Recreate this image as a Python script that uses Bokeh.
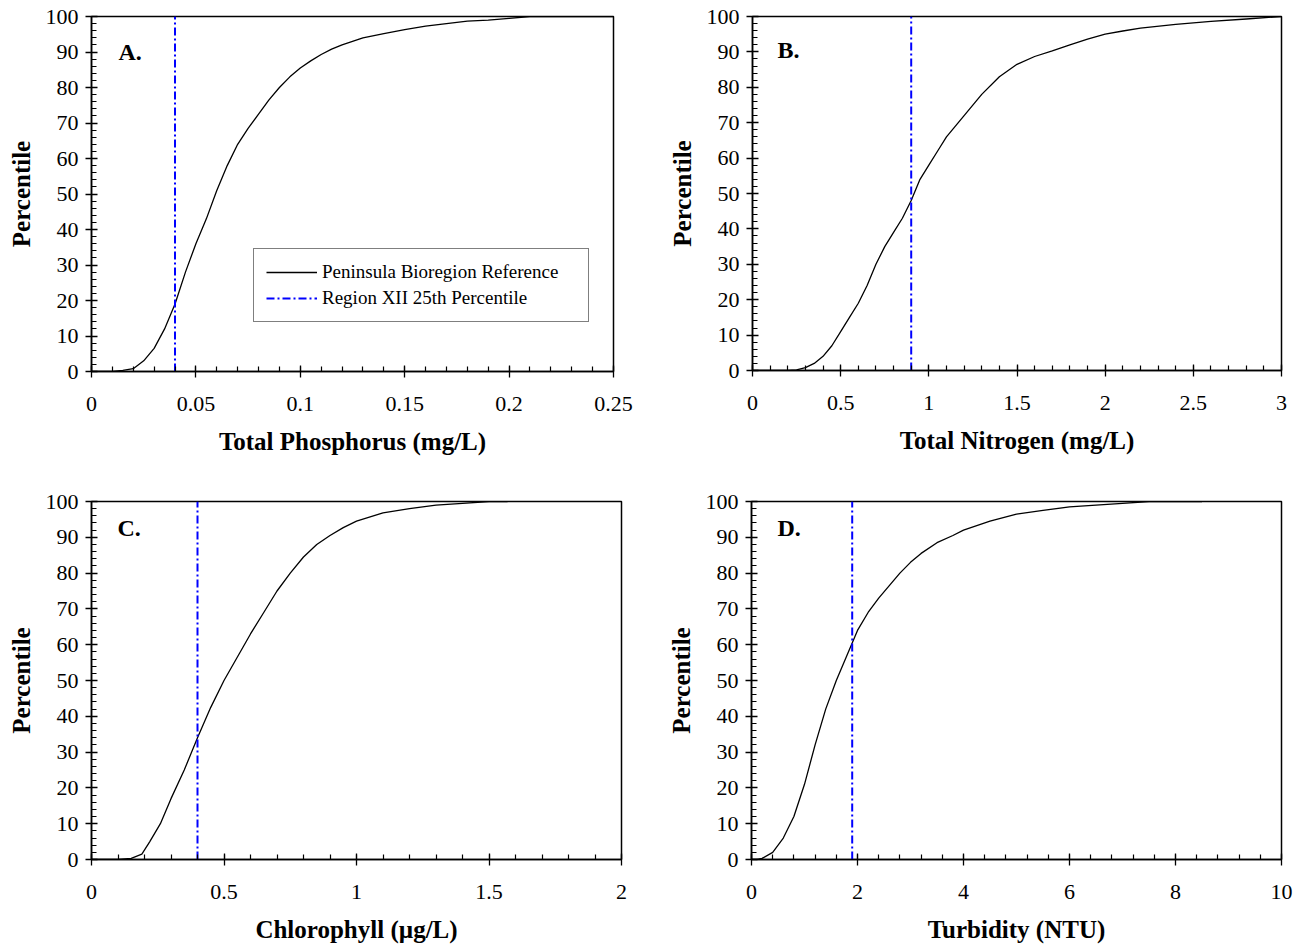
from bokeh.plotting import figure
from bokeh.layouts import column, row
from bokeh.models import Range1d, SingleIntervalTicker, CustomJSTickFormatter, Label
from bokeh.embed import file_html
from bokeh.resources import INLINE

FONT = "Liberation Serif"

# ---- data ----
tp_x = [0, 0.01, 0.015, 0.02, 0.025, 0.03, 0.035, 0.04, 0.045, 0.05, 0.055, 0.06, 0.065, 0.07,
        0.075, 0.08, 0.085, 0.09, 0.095, 0.1, 0.105, 0.11, 0.115, 0.12, 0.125, 0.13, 0.14, 0.15,
        0.16, 0.17, 0.18, 0.19, 0.2, 0.21, 0.25]
tp_y = [0, 0, 0.3, 0.8, 3, 6.5, 12, 19, 28, 36, 43, 51, 58, 64,
        68.5, 72.5, 76.5, 80, 83, 85.5, 87.5, 89.3, 90.8, 92, 93, 94, 95.2, 96.3,
        97.3, 98, 98.7, 99, 99.5, 100, 100]

tn_x = [0, 0.2, 0.25, 0.3, 0.35, 0.4, 0.45, 0.5, 0.55, 0.6, 0.65, 0.7, 0.75, 0.8, 0.85, 0.9,
        0.95, 1.0, 1.05, 1.1, 1.2, 1.3, 1.4, 1.5, 1.6, 1.7, 1.8, 1.9, 2.0, 2.1, 2.2, 2.4, 2.6,
        2.8, 3.0]
tn_y = [0, 0, 0.2, 0.8, 2, 4, 7, 11, 15, 19, 24, 30, 35, 39, 43, 48,
        54, 58, 62, 66, 72, 78, 83, 86.5, 88.7, 90.3, 92, 93.6, 95, 95.9, 96.7, 97.8, 98.6,
        99.3, 100]

chl_x = [0, 0.1, 0.15, 0.19, 0.22, 0.26, 0.3, 0.35, 0.4, 0.45, 0.5, 0.55, 0.6, 0.65, 0.7,
         0.75, 0.8, 0.85, 0.9, 0.95, 1.0, 1.1, 1.2, 1.3, 1.4, 1.5, 1.57]
chl_y = [0, 0, 0.3, 1.5, 5, 10, 17, 25, 34, 42.5, 50, 56.5, 63, 69, 75,
         80, 84.5, 88, 90.5, 92.7, 94.5, 96.8, 98, 99, 99.5, 100, 100]

tur_x = [0, 0.1, 0.2, 0.4, 0.6, 0.8, 1.0, 1.2, 1.4, 1.6, 1.8, 2.0, 2.2, 2.4, 2.6, 2.8, 3.0,
         3.2, 3.5, 3.8, 4.0, 4.5, 5.0, 5.5, 6.0, 6.5, 7.0, 7.5, 8.5]
tur_y = [0, 0, 0.3, 2, 6, 12, 21, 32, 42, 50, 57, 64, 69, 73, 76.5, 80, 83,
         85.5, 88.5, 90.5, 92, 94.5, 96.5, 97.5, 98.5, 99, 99.5, 100, 100]

ref_values = [0.04, 0.9, 0.4, 1.9]          # Region XII 25th percentile
x_max = [0.25, 3, 2, 10]
x_major = [0.05, 0.5, 0.5, 2]
x_titles = ["Total Phosphorus (mg/L)", "Total Nitrogen (mg/L)", "Chlorophyll (\u00b5g/L)", "Turbidity (NTU)"]
panel_letters = ["A.", "B.", "C.", "D."]
y_title = "Percentile"
legend_names = ["Peninsula Bioregion Reference", "Region XII 25th Percentile"]


def make_panel(xs, ys, i, frame_w, frame_h, borders, letter_pos, legend=False):
    left, right, top, bottom = borders
    p = figure(frame_width=frame_w, frame_height=frame_h,
               min_border_left=left, min_border_right=right,
               min_border_top=top, min_border_bottom=bottom,
               x_range=Range1d(0, x_max[i]), y_range=Range1d(0, 100),
               output_backend="svg", toolbar_location=None,
               background_fill_color="white", border_fill_color="white")
    p.xgrid.visible = False
    p.ygrid.visible = False
    p.outline_line_color = "black"
    p.outline_line_width = 1.5

    p.xaxis.ticker = SingleIntervalTicker(interval=x_major[i], num_minor_ticks=5)
    p.yaxis.ticker = SingleIntervalTicker(interval=10, num_minor_ticks=5)
    p.xaxis.formatter = CustomJSTickFormatter(code="return String(Number(tick.toFixed(6)));")
    p.xaxis.axis_label = x_titles[i]
    p.yaxis.axis_label = y_title

    for ax in (p.xaxis[0], p.yaxis[0]):
        ax.axis_line_color = "black"
        ax.axis_line_width = 1.5
        ax.major_tick_line_color = "black"
        ax.major_tick_line_width = 1.3
        ax.minor_tick_line_color = "black"
        ax.minor_tick_line_width = 1.2
        ax.major_tick_in = 6
        ax.major_tick_out = 6
        ax.minor_tick_in = 5
        ax.minor_tick_out = 0
        ax.major_label_text_font = FONT
        ax.major_label_text_font_size = "22px"
        ax.major_label_text_color = "black"
        ax.axis_label_text_font = FONT
        ax.axis_label_text_font_size = "25px"
        ax.axis_label_text_font_style = "bold"
        ax.axis_label_text_color = "black"
    p.xaxis.major_label_standoff = 19
    p.xaxis.axis_label_standoff = 14
    p.yaxis.major_label_standoff = 7
    p.yaxis.axis_label_standoff = 8

    kw1 = dict(legend_label=legend_names[0]) if legend else {}
    kw2 = dict(legend_label=legend_names[1]) if legend else {}
    p.line(xs, ys, line_color="black", line_width=1.3, **kw1)
    p.line([ref_values[i], ref_values[i]], [0, 100], line_color="#0000FF", line_width=2,
           line_dash="8 3 2 3", **kw2)

    p.add_layout(Label(x=letter_pos[0], y=letter_pos[1], text=panel_letters[i],
                       text_font=FONT, text_font_size="24px", text_font_style="bold",
                       text_baseline="middle", text_align="left", text_color="black"))

    if legend:
        lg = p.legend[0]
        lg.location = (162, 49)
        lg.label_text_font = FONT
        lg.label_text_font_size = "19px"
        lg.label_text_color = "black"
        lg.border_line_color = "black"
        lg.border_line_width = 1
        lg.background_fill_color = "white"
        lg.background_fill_alpha = 1
        lg.padding = 12
        lg.spacing = 4
        lg.glyph_width = 51
        lg.label_width = 254
        lg.label_standoff = 5
        lg.margin = 0
    return p


pA = make_panel(tp_x, tp_y, 0, 522, 355, (91, 38, 16, 99), (0.0129, 90), legend=True)
pB = make_panel(tn_x, tn_y, 1, 529, 354, (101, 21, 16, 100), (0.142, 90.5))
pC = make_panel(chl_x, chl_y, 2, 530, 358, (91, 30, 31, 87), (0.098, 92.5))
pD = make_panel(tur_x, tur_y, 3, 530, 358, (100, 21, 31, 87), (0.49, 92.5))

layout = column(row(pA, pB), row(pC, pD))
open("out.html", "w").write(file_html(layout, INLINE))
